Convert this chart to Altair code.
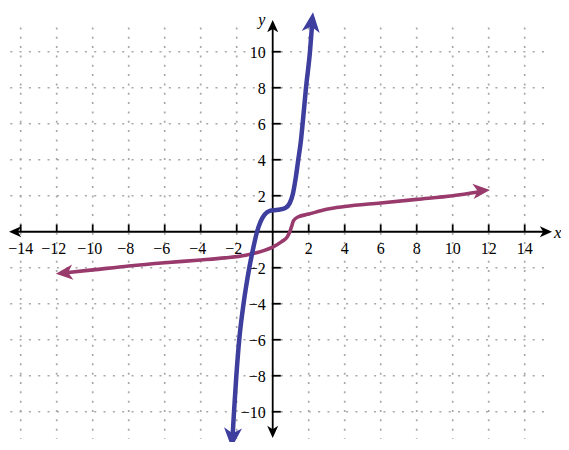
import altair as alt
import pandas as pd

# ---- data ----
grid_x = [-14, -12, -10, -8, -6, -4, -2, 2, 4, 6, 8, 10, 12, 14]
grid_y = [-10, -8, -6, -4, -2, 2, 4, 6, 8, 10]
x_tick_labels = ["−14", "−12", "−10", "−8", "−6", "−4", "−2", "2", "4", "6", "8", "10", "12", "14"]
y_tick_labels = ["−10", "−8", "−6", "−4", "−2", "2", "4", "6", "8", "10"]

blue_x = [-2.23, -2.15, -2.02, -1.86, -1.62, -1.47, -1.3, -1.1, -0.87, -0.68, -0.45, -0.2,
          0.3, 0.7, 0.95, 1.12, 1.28, 1.42, 1.56, 1.7, 1.85, 2.07, 2.2]
blue_y = [-11.4, -10.0, -8.0, -6.0, -4.0, -3.0, -2.0, -1.0, 0.0, 0.55, 0.95, 1.15,
          1.22, 1.32, 1.6, 2.1, 3.0, 4.0, 5.0, 6.4, 8.0, 10.0, 11.65]

purple_x = [-11.5, -10, -8, -6, -4, -2.65, -1.5, -0.5, 0, 0.5, 0.8, 0.95, 1.05, 1.15,
            1.4, 2, 3, 4, 6, 8, 10, 11.5]
purple_y = [-2.28, -2.12, -1.9, -1.72, -1.57, -1.45, -1.3, -1.05, -0.85, -0.55, -0.3, 0.0, 0.3, 0.6,
            0.82, 0.98, 1.25, 1.4, 1.6, 1.8, 2.0, 2.22]

# arrow tips (x, y, angle)
blue_tips_x = [2.24, -2.28]
blue_tips_y = [12.2, -12.0]
blue_tips_a = [6.6, 183.8]
purple_tips_x = [12.07, -12.05]
purple_tips_y = [2.32, -2.33]
purple_tips_a = [85, 265]

BLUE = "#3e3e9f"
PURPLE = "#993a6c"
FONT = "'Liberation Serif', 'DejaVu Serif', serif"

xs = alt.Scale(domain=[-14.706, 16.017], nice=False, zero=False)
ys = alt.Scale(domain=[-11.68, 12.43], nice=False, zero=False)


def X(f):
    return alt.X(f, type="quantitative", scale=xs, axis=None, title=None)


def Y(f):
    return alt.Y(f, type="quantitative", scale=ys, axis=None, title=None)


def X2(f):
    return alt.X2(f)


def Y2(f):
    return alt.Y2(f)


ARROW = "M0,0 L0.9,2 L0,1.45 L-0.9,2 Z"

# grid
vgrid_df = pd.DataFrame({"x": grid_x, "y0": 11.35, "y1": -11.5})
hgrid_df = pd.DataFrame({"y": grid_y, "x0": -15.1, "x1": 15.1})
vgrid = alt.Chart(vgrid_df).mark_rule(color="#a8a8a8", strokeWidth=1.7, strokeDash=[2, 7.33]).encode(
    x=X("x"), y=Y("y0"), y2=Y2("y1"))
hgrid = alt.Chart(hgrid_df).mark_rule(color="#a8a8a8", strokeWidth=1.7, strokeDash=[2, 7.33]).encode(
    y=Y("y"), x=X("x0"), x2=X2("x1"))

# axes
xaxis = alt.Chart(pd.DataFrame({"x0": [-14.3], "x1": [15.1], "y": [0]})).mark_rule(
    color="black", strokeWidth=1.8).encode(x=X("x0"), x2=X2("x1"), y=Y("y"))
yaxis = alt.Chart(pd.DataFrame({"y0": [11.4], "y1": [-11.1], "x": [0]})).mark_rule(
    color="black", strokeWidth=1.8).encode(y=Y("y0"), y2=Y2("y1"), x=X("x"))
axis_arrows = alt.Chart(pd.DataFrame({
    "x": [-14.65, 15.52, 0, 0], "y": [0, 0, 11.76, -11.46], "a": [270, 90, 0, 180]
})).mark_point(shape=ARROW, filled=True, color="black", size=150, opacity=1).encode(
    x=X("x"), y=Y("y"), angle=alt.Angle("a:Q", scale=None))

# ticks
xticks = alt.Chart(pd.DataFrame({"x": grid_x, "y0": 0, "y1": 0.4})).mark_rule(
    color="black", strokeWidth=1.8).encode(x=X("x"), y=Y("y0"), y2=Y2("y1"))
yticks = alt.Chart(pd.DataFrame({"y": grid_y, "x0": 0, "x1": 0.45})).mark_rule(
    color="black", strokeWidth=1.8).encode(y=Y("y"), x=X("x0"), x2=X2("x1"))

FS = 16
xl_df = pd.DataFrame({"x": grid_x, "t": x_tick_labels, "y": -0.96})
xl_edge = alt.Chart(xl_df[xl_df.x < -13]).mark_text(font=FONT, fontSize=FS, color="black",
                                                    align="left", baseline="middle", dx=-12.5).encode(
    x=X("x"), y=Y("y"), text="t:N")
xl_neg = alt.Chart(xl_df[(xl_df.x < 0) & (xl_df.x > -13)]).mark_text(
    font=FONT, fontSize=FS, color="black", align="center", baseline="middle", dx=-3).encode(
    x=X("x"), y=Y("y"), text="t:N")
xl_pos = alt.Chart(xl_df[xl_df.x > 0]).mark_text(font=FONT, fontSize=FS, color="black",
                                                 align="center", baseline="middle").encode(
    x=X("x"), y=Y("y"), text="t:N")
yl = alt.Chart(pd.DataFrame({"y": grid_y, "t": y_tick_labels, "x": 0})).mark_text(
    font=FONT, fontSize=FS, color="black", align="right", baseline="middle", dx=-7, dy=1).encode(
    x=X("x"), y=Y("y"), text="t:N")

xtitle = alt.Chart(pd.DataFrame({"x": [15.63], "y": [-0.07], "t": ["x"]})).mark_text(
    font=FONT, fontSize=17, fontStyle="italic", color="black", align="left", baseline="middle").encode(
    x=X("x"), y=Y("y"), text="t:N")
ytitle = alt.Chart(pd.DataFrame({"x": [-0.6], "y": [11.5], "t": ["y"]})).mark_text(
    font=FONT, fontSize=16, fontStyle="italic", color="black", align="center", baseline="alphabetic").encode(
    x=X("x"), y=Y("y"), text="t:N")

# curves
blue_df = pd.DataFrame({"x": blue_x, "y": blue_y, "i": range(len(blue_x))})
purple_df = pd.DataFrame({"x": purple_x, "y": purple_y, "i": range(len(purple_x))})
blue = alt.Chart(blue_df).mark_line(color=BLUE, strokeWidth=4.5, interpolate="monotone").encode(
    x=X("x"), y=Y("y"), order="i:Q")
purple = alt.Chart(purple_df).mark_line(color=PURPLE, strokeWidth=3.6, interpolate="monotone").encode(
    x=X("x"), y=Y("y"), order="i:Q")
blue_tips = alt.Chart(pd.DataFrame({"x": blue_tips_x, "y": blue_tips_y, "a": blue_tips_a})).mark_point(
    shape=ARROW, filled=True, color=BLUE, size=400, opacity=1).encode(
    x=X("x"), y=Y("y"), angle=alt.Angle("a:Q", scale=None))
purple_tips = alt.Chart(pd.DataFrame({"x": purple_tips_x, "y": purple_tips_y, "a": purple_tips_a})).mark_point(
    shape=ARROW, filled=True, color=PURPLE, size=290, opacity=1).encode(
    x=X("x"), y=Y("y"), angle=alt.Angle("a:Q", scale=None))

chart = alt.layer(
    vgrid, hgrid, xaxis, yaxis, axis_arrows, xticks, yticks, xl_edge, xl_neg, xl_pos, yl,
    xtitle, ytitle, purple, purple_tips, blue, blue_tips
).properties(
    width=553, height=434, autosize=alt.AutoSizeParams(type="none"), padding=0
).configure_view(stroke=None)

chart.save("out.html", embed_options={"renderer": "svg", "actions": False})
